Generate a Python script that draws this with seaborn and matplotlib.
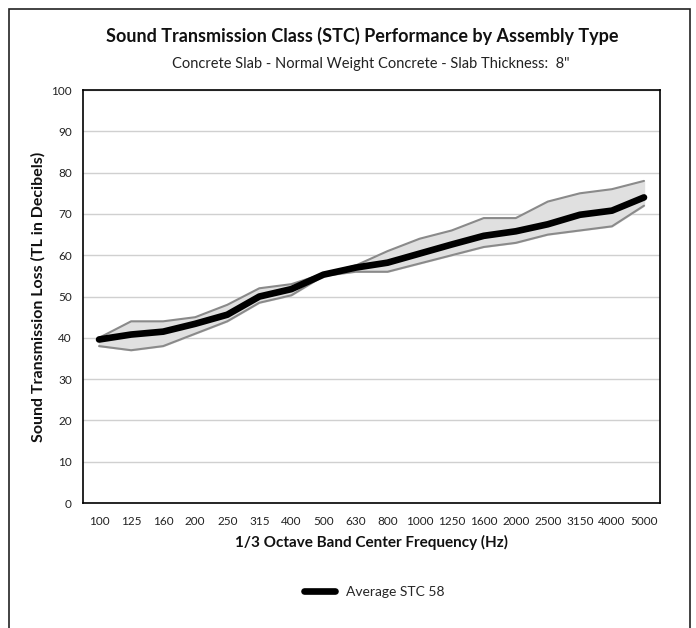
import numpy as np
import pandas as pd
import seaborn as sns
import matplotlib.pyplot as plt
from matplotlib.patches import Rectangle

freqs = ["100", "125", "160", "200", "250", "315", "400", "500", "630",
         "800", "1000", "1250", "1600", "2000", "2500", "3150", "4000", "5000"]
avg_tl = [39.6, 40.8, 41.5, 43.4, 45.6, 50.0, 51.8, 55.3, 57.0,
          58.2, 60.4, 62.6, 64.7, 65.8, 67.5, 69.8, 70.8, 74.0]
upper_tl = [40, 44, 44, 45, 48, 52, 53, 55.5, 57.5,
            61, 64, 66, 69, 69, 73, 75, 76, 78]
lower_tl = [38, 37, 38, 41, 44, 48.5, 50.3, 55, 56,
            56, 58, 60, 62, 63, 65, 66, 67, 72]

df = pd.DataFrame({"pos": np.arange(len(freqs)), "freq": freqs,
                   "avg": avg_tl, "upper": upper_tl, "lower": lower_tl})

sns.set_style("white")
plt.rcParams["font.family"] = ["Lato", "DejaVu Sans"]

fig = plt.figure(figsize=(6.96, 6.28), dpi=100)
ax = fig.add_axes([0.1193, 0.199, 0.829, 0.6576])

# outer frame
fig.patches.append(Rectangle((9 / 696, -0.05), 681 / 696, 1.05 - 9 / 628,
                             transform=fig.transFigure, fill=False,
                             edgecolor="#222222", lw=1.2))

ax.fill_between(df["pos"], df["lower"], df["upper"], color="#e0e0e0", zorder=2)
sns.lineplot(data=df, x="pos", y="upper", ax=ax, color="#8a8a8a", lw=1.5, zorder=3)
sns.lineplot(data=df, x="pos", y="lower", ax=ax, color="#8a8a8a", lw=1.5, zorder=3)
sns.lineplot(data=df, x="pos", y="avg", ax=ax, color="black", lw=4.8,
             solid_capstyle="round", label="Average STC 58", zorder=4)

ax.set_xlim(-0.5, len(freqs) - 0.5)
ax.set_ylim(0, 100)
ax.set_yticks(range(0, 101, 10))
ax.set_xticks(df["pos"])
ax.set_xticklabels(freqs)
ax.yaxis.grid(True, color="#d0d0d0", lw=1)
ax.set_axisbelow(True)
for s in ax.spines.values():
    s.set_color("black")
    s.set_linewidth(1.2)
ax.tick_params(axis="x", direction="in", length=4, width=1, color="black",
               labelsize=8.5, pad=9, labelcolor="#222222")
ax.tick_params(axis="y", length=0, labelsize=8.5, pad=8, labelcolor="#222222")

ax.set_xlabel("1/3 Octave Band Center Frequency (Hz)", fontsize=11,
              fontweight="bold", labelpad=6, color="#111111")
ax.set_ylabel("Sound Transmission Loss (TL in Decibels)", fontsize=11.5,
              fontweight="bold", labelpad=4, color="#111111")

fig.text(0.52, 1 - 36 / 628, "Sound Transmission Class (STC) Performance by Assembly Type",
         ha="center", va="center", fontsize=13, fontweight="bold", color="#111111")
fig.text(0.532, 1 - 64 / 628, "Concrete Slab - Normal Weight Concrete - Slab Thickness:  8\"",
         ha="center", va="center", fontsize=10.5, color="#222222")

ax.get_legend().remove()
handles, labels = ax.get_legend_handles_labels()
fig.legend(handles, labels, loc="center", bbox_to_anchor=(0.538, 1 - 592 / 628),
           frameon=False, fontsize=10, handlelength=2.2)

fig.savefig("out.png", dpi=100)
